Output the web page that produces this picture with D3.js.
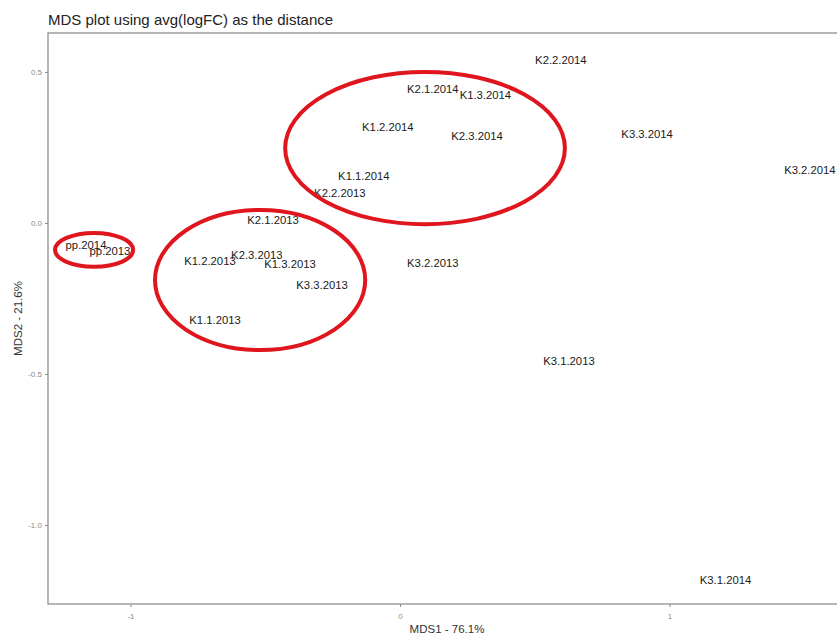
<!DOCTYPE html>
<html>
<head>
<meta charset="utf-8">
<script src="https://cdn.jsdelivr.net/npm/d3@7"></script>
<style>
  html, body { margin: 0; padding: 0; background: #fff; overflow: hidden; }
  svg { display: block; font-family: "Liberation Sans", Arial, sans-serif; }
</style>
</head>
<body>
<svg id="chart" width="837" height="635"></svg>
<script>
// ---- data ----
const sampleNames = ["K2.2.2014","K2.1.2014","K1.3.2014","K1.2.2014","K2.3.2014","K3.3.2014","K3.2.2014","K1.1.2014","K2.2.2013","K2.1.2013","pp.2014","pp.2013","K1.2.2013","K2.3.2013","K1.3.2013","K3.3.2013","K3.2.2013","K1.1.2013","K3.1.2013","K3.1.2014"];
const mds1 = [0.597, 0.122, 0.317, -0.045, 0.286, 0.917, 1.521, -0.134, -0.223, -0.471, -1.165, -1.076, -0.705, -0.531, -0.408, -0.289, 0.122, -0.686, 0.627, 1.208];
const mds2 = [0.540, 0.444, 0.424, 0.318, 0.288, 0.295, 0.175, 0.156, 0.099, 0.010, -0.073, -0.093, -0.126, -0.106, -0.136, -0.205, -0.132, -0.321, -0.457, -1.182];
const xTicks = [-1, 0, 1];
const yTicks = [0.5, 0.0, -0.5, -1.0];
const yTickLabels = ["0.5", "0.0", "-0.5", "-1.0"];
const xTickLabels = ["-1", "0", "1"];
// annotation ellipses (data units): centre x, centre y, radius x, radius y
const ellipseCx = [-1.135, -0.519, 0.093];
const ellipseCy = [-0.089, -0.189, 0.248];
const ellipseRx = [0.145, 0.390, 0.519];
const ellipseRy = [0.056, 0.232, 0.252];
const titleText = "MDS plot using avg(logFC) as the distance";
const xTitle = "MDS1 - 76.1%";
const yTitle = "MDS2 - 21.6%";

// ---- layout ----
const panel = { left: 48, top: 33, right: 846, bottom: 604 };
const svg = d3.select("#chart");

const x = d3.scaleLinear().domain([-1.306, 1.655]).range([panel.left, panel.right]);
const y = d3.scaleLinear().domain([0.629, -1.2616]).range([panel.top, panel.bottom]);

// panel border
svg.append("rect")
  .attr("x", panel.left).attr("y", panel.top)
  .attr("width", panel.right - panel.left).attr("height", panel.bottom - panel.top)
  .attr("fill", "#fff").attr("stroke", "#8f8f8f").attr("stroke-width", 1.3);

// axes
const xAxis = svg.append("g")
  .attr("transform", `translate(0,${panel.bottom})`)
  .call(d3.axisBottom(x).tickValues(xTicks).tickSize(3).tickPadding(6)
    .tickFormat((d, i) => xTickLabels[i]));
const yAxis = svg.append("g")
  .attr("transform", `translate(${panel.left},0)`)
  .call(d3.axisLeft(y).tickValues(yTicks).tickSize(3).tickPadding(3)
    .tickFormat((d, i) => yTickLabels[i]));
[xAxis, yAxis].forEach(g => {
  g.select(".domain").remove();
  g.selectAll(".tick line").attr("stroke", "#8f8f8f").attr("stroke-width", 1.1);
  g.selectAll(".tick text").attr("fill", "#8a8a8a")
    .attr("font-size", "8px").attr("font-family", "Liberation Sans, Arial, sans-serif");
});

// point labels
svg.append("g").selectAll("text")
  .data(sampleNames)
  .join("text")
  .attr("x", (d, i) => x(mds1[i]))
  .attr("y", (d, i) => y(mds2[i]))
  .attr("text-anchor", "middle")
  .attr("dominant-baseline", "central")
  .attr("font-size", "11.3px")
  .attr("fill", "#1a1a1a")
  .text(d => d);

// red hand-drawn ellipses
svg.append("g").selectAll("ellipse")
  .data(ellipseCx)
  .join("ellipse")
  .attr("cx", (d, i) => x(ellipseCx[i]))
  .attr("cy", (d, i) => y(ellipseCy[i]))
  .attr("rx", (d, i) => x(ellipseRx[i]) - x(0))
  .attr("ry", (d, i) => y(0) - y(ellipseRy[i]))
  .attr("fill", "none")
  .attr("stroke", "#e0161e")
  .attr("stroke-width", 4);

// titles
svg.append("text")
  .attr("x", panel.left).attr("y", 25)
  .attr("font-size", "15px").attr("fill", "#222")
  .text(titleText);

svg.append("text")
  .attr("x", (panel.left + panel.right) / 2).attr("y", 633)
  .attr("text-anchor", "middle")
  .attr("font-size", "11.5px").attr("fill", "#333")
  .text(xTitle);

svg.append("text")
  .attr("transform", `translate(22,${(panel.top + panel.bottom) / 2}) rotate(-90)`)
  .attr("text-anchor", "middle")
  .attr("font-size", "11.5px").attr("fill", "#333")
  .text(yTitle);
</script>
</body>
</html>
